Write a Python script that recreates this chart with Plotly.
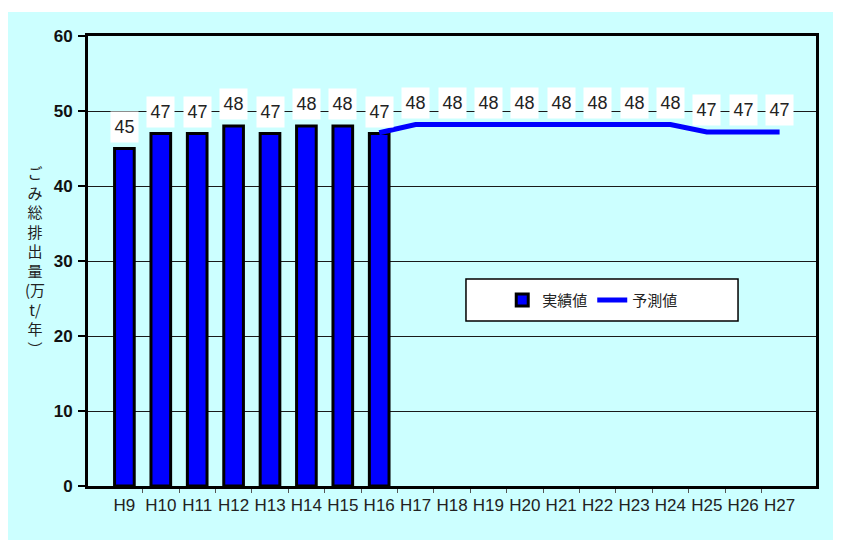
import plotly.graph_objects as go

# ---- data ----
categories = ["H9", "H10", "H11", "H12", "H13", "H14", "H15", "H16", "H17", "H18",
              "H19", "H20", "H21", "H22", "H23", "H24", "H25", "H26", "H27"]
actual_cats = ["H9", "H10", "H11", "H12", "H13", "H14", "H15", "H16"]
actual_vals = [45, 47, 47, 48, 47, 48, 48, 47]
forecast_cats = ["H16", "H17", "H18", "H19", "H20", "H21", "H22", "H23", "H24", "H25", "H26", "H27"]
forecast_vals = [47.1, 48.2, 48.2, 48.2, 48.2, 48.2, 48.2, 48.2, 48.2, 47.2, 47.2, 47.2]
forecast_label_cats = forecast_cats[1:]   # H16 is labelled by its bar
y_ticks = [0, 10, 20, 30, 40, 50, 60]
y_title_chars = ["ご", "み", "総", "排", "出", "量", "(万", "t/", "年", "︶"]

FONT = "Arial, 'Liberation Sans', 'Noto Sans CJK JP', sans-serif"
JFONT = "'Noto Sans CJK JP', Arial, sans-serif"
idx = {c: i for i, c in enumerate(categories)}

fig = go.Figure()
fig.add_trace(go.Bar(
    x=[idx[c] for c in actual_cats], y=actual_vals, name="実績値",
    width=0.54, marker=dict(color="#0000FF", line=dict(color="black", width=3)),
))
fig.add_trace(go.Scatter(
    x=[idx[c] for c in forecast_cats], y=forecast_vals, name="予測値",
    mode="lines", line=dict(color="#0000FF", width=5),
))

annotations = []
def label(xc, yv):
    annotations.append(dict(
        x=idx[xc], y=yv, xref="x", yref="y", text=f"{round(yv):d}", showarrow=False,
        yshift=22, bgcolor="white", width=27, height=30, borderpad=0,
        font=dict(family=FONT, size=18, color="#222222"),
    ))
for c, v in zip(actual_cats, actual_vals):
    label(c, v)
for c in forecast_label_cats:
    label(c, forecast_vals[forecast_cats.index(c)])

annotations.append(dict(
    x=-0.0728, y=0.502, xref="paper", yref="paper", showarrow=False,
    xanchor="center", yanchor="middle",
    text="<br>".join(y_title_chars), align="center",
    font=dict(family=JFONT, size=15, color="#222222"),
))

shapes = [
    # thin white band along the top edge of the figure
    dict(type="rect", xref="paper", yref="paper", x0=-0.2, x1=1.2, y0=1.0533, y1=1.08,
         fillcolor="white", line=dict(width=0), layer="below"),
    # legend frame
    dict(type="rect", xref="paper", yref="paper", x0=0.5192, x1=0.8929, y0=0.3667, y1=0.46,
         fillcolor="white", line=dict(color="black", width=1.5), layer="above"),
]

fig.update_layout(
    width=841, height=540,
    margin=dict(l=80, r=33, t=28, b=62, autoexpand=False),
    paper_bgcolor="#CCFFFF", plot_bgcolor="#CCFFFF",
    font=dict(family=FONT, color="#222222"),
    showlegend=True,
    legend=dict(orientation="h", x=0.569, xanchor="left", y=0.413, yanchor="middle",
                bgcolor="rgba(0,0,0,0)", font=dict(family=JFONT, size=15, color="#222222"),
                itemwidth=30),
    annotations=annotations, shapes=shapes,
)
fig.update_xaxes(
    range=[-1, 19], tickmode="array", tickvals=list(range(len(categories))), ticktext=categories,
    ticks="outside", ticklen=0, tickcolor="rgba(0,0,0,0)",
    minor=dict(tickmode="array", tickvals=[i + 0.5 for i in range(len(categories) - 1)],
               ticks="outside", ticklen=4, tickcolor="#555555", tickwidth=1, showgrid=False),
    showline=True, linecolor="black", linewidth=3, mirror=True, showgrid=False, zeroline=False,
    tickfont=dict(family=FONT, size=17, color="#222222"), ticklabelstandoff=2,
)
fig.update_yaxes(
    range=[0, 60], tickmode="array", tickvals=y_ticks,
    ticks="outside", ticklen=7, tickwidth=2, tickcolor="black",
    showline=True, linecolor="black", linewidth=3, mirror=True,
    showgrid=True, gridcolor="#1a1a1a", gridwidth=1, zeroline=False,
    tickfont=dict(family=FONT, size=17, color="#111111", weight="bold"), ticklabelstandoff=2,
)

fig.write_html("out.html")
